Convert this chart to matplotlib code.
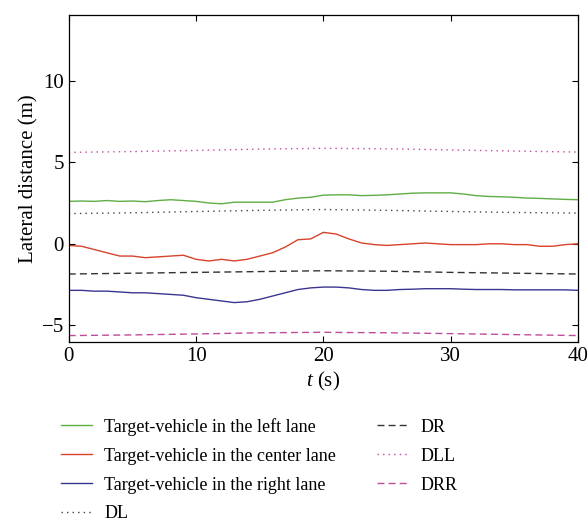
import numpy as np
import matplotlib
matplotlib.use("Agg")
import matplotlib.pyplot as plt

plt.rcParams['font.family'] = ['Liberation Serif', 'DejaVu Serif']
plt.rcParams['mathtext.fontset'] = 'custom'
plt.rcParams['mathtext.it'] = 'Liberation Serif:italic'
plt.rcParams['mathtext.rm'] = 'Liberation Serif'

# measured vehicle traces, 1 s steps
t = np.arange(0, 41)
left_lane = [2.6, 2.62, 2.6, 2.65, 2.6, 2.62, 2.58, 2.65, 2.7, 2.65, 2.6,
             2.5, 2.45, 2.55, 2.55, 2.55, 2.55, 2.7, 2.8, 2.85, 2.98,
             3.0, 3.0, 2.95, 2.97, 3.0, 3.05, 3.1, 3.12, 3.12, 3.12,
             3.05, 2.95, 2.9, 2.88, 2.85, 2.8, 2.78, 2.75, 2.72, 2.7]
center_lane = [-0.1, -0.15, -0.35, -0.55, -0.75, -0.75, -0.85, -0.8, -0.75, -0.7, -0.95,
               -1.05, -0.95, -1.05, -0.95, -0.75, -0.55, -0.2, 0.25, 0.3, 0.7,
               0.6, 0.3, 0.05, -0.05, -0.1, -0.05, 0.0, 0.05, 0.0, -0.05,
               -0.05, -0.05, 0.0, 0.0, -0.05, -0.05, -0.15, -0.15, -0.05, 0.0]
right_lane = [-2.85, -2.85, -2.9, -2.9, -2.95, -3.0, -3.0, -3.05, -3.1, -3.15, -3.3,
              -3.4, -3.5, -3.6, -3.55, -3.4, -3.2, -3.0, -2.8, -2.7, -2.65,
              -2.65, -2.7, -2.8, -2.85, -2.85, -2.8, -2.78, -2.75, -2.75, -2.75,
              -2.78, -2.8, -2.8, -2.8, -2.82, -2.82, -2.82, -2.82, -2.82, -2.85]

# lane boundaries, 5 s steps
t_ref = np.arange(0, 41, 5)
dl = [1.85, 1.9, 1.98, 2.05, 2.1, 2.05, 1.98, 1.92, 1.88]
dr = [-1.85, -1.8, -1.75, -1.7, -1.65, -1.68, -1.75, -1.8, -1.85]
dll = [5.6, 5.65, 5.72, 5.8, 5.85, 5.82, 5.75, 5.68, 5.62]
drr = [-5.62, -5.58, -5.52, -5.45, -5.42, -5.45, -5.5, -5.56, -5.62]

fig = plt.figure(figsize=(5.88, 5.25), dpi=100)
ax = fig.add_axes([0.117, 0.349, 0.866, 0.622])

ax.plot(t, left_lane, color='#5fae45', lw=1.0, label='Target-vehicle in the left lane')
ax.plot(t, center_lane, color='#d8432c', lw=1.0, label='Target-vehicle in the center lane')
ax.plot(t, right_lane, color='#3b3592', lw=1.0, label='Target-vehicle in the right lane')
ax.plot(t_ref, dl, color='#444444', lw=1.0, ls=(0, (1, 3)), label='DL')
ax.plot(t_ref, dr, color='#333333', lw=1.0, ls=(0, (5, 3)), label='DR')
ax.plot(t_ref, dll, color='#c04a9c', lw=1.0, ls=(0, (1, 3)), label='DLL')
ax.plot(t_ref, drr, color='#c04a9c', lw=1.0, ls=(0, (5, 3)), label='DRR')

ax.set_xlim(0, 40)
ax.set_ylim(-6, 14)
ax.set_xticks([0, 10, 20, 30, 40])
ax.set_yticks([-5, 0, 5, 10])
ax.tick_params(direction='in', top=True, right=True, labelsize=15, length=4, width=0.8)
for s in ax.spines.values():
    s.set_linewidth(0.9)
ax.set_xlabel('$t$ (s)', fontsize=15, labelpad=3)
ax.set_ylabel('Lateral distance (m)', fontsize=15, labelpad=2)

handles, labels = ax.get_legend_handles_labels()
fig.legend(handles, labels, ncol=2, frameon=False, fontsize=13,
           loc='upper left', bbox_to_anchor=(0.076, 0.235),
           handlelength=1.7, columnspacing=2.25, labelspacing=0.66,
           handletextpad=0.7)

fig.savefig('out.png', dpi=100)
